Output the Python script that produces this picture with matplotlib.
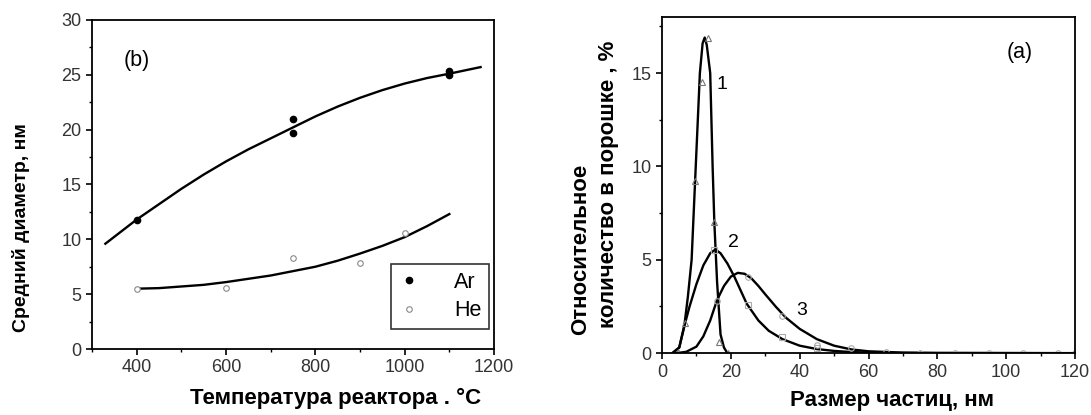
import matplotlib
matplotlib.use("Agg")
import matplotlib.pyplot as plt
from matplotlib.ticker import MultipleLocator

plt.rcParams['font.family'] = ['Liberation Sans', 'DejaVu Sans']

# ---- panel (b): mean diameter vs reactor temperature ----
ar_t = [400, 750, 750, 1100, 1100]
ar_d = [11.8, 21.0, 19.7, 25.3, 25.0]
he_t = [400, 600, 750, 900, 1000]
he_d = [5.5, 5.6, 8.3, 7.8, 10.6]

ar_fit_t = [330, 400, 450, 500, 550, 600, 650, 700, 750, 800, 850, 900, 950, 1000, 1050, 1100, 1170]
ar_fit_d = [9.6, 11.8, 13.2, 14.6, 15.9, 17.1, 18.2, 19.2, 20.2, 21.2, 22.1, 22.9, 23.6, 24.2, 24.7, 25.1, 25.7]
he_fit_t = [400, 450, 500, 550, 600, 650, 700, 750, 800, 850, 900, 950, 1000, 1050, 1100]
he_fit_d = [5.5, 5.55, 5.7, 5.85, 6.1, 6.4, 6.7, 7.1, 7.5, 8.05, 8.7, 9.4, 10.2, 11.2, 12.3]

# ---- panel (a): size distributions ----
c1_x = [3, 5, 6.5, 7.5, 8.6, 9.8, 11.0, 11.8, 12.4, 13.0, 14.0, 14.7, 15.2, 16.0, 17.0, 18.0, 19.0]
c1_y = [0, 0.3, 1.5, 3.0, 5.0, 10.0, 15.0, 16.6, 16.9, 16.5, 15.0, 10.0, 7.0, 3.8, 1.0, 0.3, 0.0]
c2_x = [3, 5, 6.7, 8, 10, 12, 14, 15.5, 17, 19, 21, 24.6, 28, 31, 35, 40, 45, 50, 55, 60, 70, 120]
c2_y = [0, 0.3, 1.6, 2.5, 3.7, 4.7, 5.35, 5.55, 5.35, 4.8, 4.1, 2.65, 1.75, 1.2, 0.75, 0.4, 0.22, 0.12, 0.06, 0.03, 0.01, 0]
c3_x = [4, 7, 10, 12, 14, 16, 18, 20, 22, 24, 26, 28, 30, 33, 36, 40, 45, 50, 55, 60, 70, 80, 120]
c3_y = [0, 0.07, 0.35, 0.9, 1.75, 2.85, 3.6, 4.1, 4.3, 4.25, 4.0, 3.6, 3.15, 2.5, 1.9, 1.3, 0.75, 0.4, 0.2, 0.1, 0.03, 0.01, 0]

m1_x = [4.7, 6.7, 9.6, 11.5, 13.5, 15.2, 16.6, 19.2]
m1_y = [0.05, 1.6, 9.2, 14.5, 16.9, 7.0, 0.6, 0]
m2_x = [15, 25, 35, 45]
m2_y = [5.5, 2.6, 0.85, 0.3]
m3_x = [16, 25, 35, 45, 55, 65, 75, 85, 95, 105, 115, 120]
m3_y = [2.8, 4.1, 2.0, 0.45, 0.25, 0.05, 0.03, 0.03, 0.02, 0.02, 0.02, 0]

fig = plt.figure(figsize=(10.91, 4.15), dpi=100)
tick_col = '#333333'

# left panel
ax1 = fig.add_axes([0.0843, 0.159, 0.3685, 0.793])
ax1.plot(ar_fit_t, ar_fit_d, color='black', lw=1.7)
ax1.plot(he_fit_t, he_fit_d, color='black', lw=1.7)
ax1.plot(ar_t, ar_d, 'o', color='black', ms=4.5, label='Ar')
ax1.plot(he_t, he_d, 'o', mfc='white', mec='#888888', ms=4, mew=0.8, label='He')
ax1.set_xlim(300, 1200)
ax1.set_ylim(0, 30)
ax1.xaxis.set_major_locator(MultipleLocator(200))
ax1.xaxis.set_minor_locator(MultipleLocator(100))
ax1.yaxis.set_major_locator(MultipleLocator(5))
ax1.yaxis.set_minor_locator(MultipleLocator(2.5))
ax1.text(400, 26.3, '(b)', fontsize=15.5, ha='center', va='center')
leg = ax1.legend(loc='lower right', bbox_to_anchor=(0.988, 0.061), fontsize=15.5, frameon=True,
                 fancybox=False, edgecolor='black', handletextpad=1.6, borderpad=0.35,
                 labelspacing=0.35, handlelength=1.0, borderaxespad=0)
leg.get_frame().set_linewidth(1.2)
fig.text(0.019, 0.451, 'Средний диаметр, нм', rotation=90, fontsize=14,
         fontweight='bold', ha='center', va='center')
fig.text(0.308, 0.041, 'Температура реактора . °C', fontsize=16,
         fontweight='bold', ha='center', va='center')

# right panel
ax2 = fig.add_axes([0.6068, 0.149, 0.3786, 0.810])
ax2.plot(c1_x, c1_y, color='black', lw=1.7)
ax2.plot(c2_x, c2_y, color='black', lw=1.7)
ax2.plot(c3_x, c3_y, color='black', lw=1.7)
ax2.plot(m1_x, m1_y, '^', mfc='none', mec='#777777', ms=4, mew=0.8)
ax2.plot(m2_x, m2_y, 's', mfc='none', mec='#aaaaaa', ms=4, mew=0.8)
ax2.plot(m3_x, m3_y, 'o', mfc='none', mec='#aaaaaa', ms=4, mew=0.8)
ax2.set_xlim(0, 120)
ax2.set_ylim(0, 18)
ax2.xaxis.set_major_locator(MultipleLocator(20))
ax2.xaxis.set_minor_locator(MultipleLocator(10))
ax2.yaxis.set_major_locator(MultipleLocator(5))
ax2.yaxis.set_minor_locator(MultipleLocator(2.5))
ax2.text(17.3, 14.4, '1', fontsize=14, ha='center', va='center')
ax2.text(20.8, 5.9, '2', fontsize=14, ha='center', va='center')
ax2.text(40.6, 2.26, '3', fontsize=14, ha='center', va='center')
ax2.text(104, 16.1, '(a)', fontsize=15.5, ha='center', va='center')
fig.text(0.532, 0.398, 'Относительное', rotation=90, fontsize=16,
         fontweight='bold', ha='center', va='center')
fig.text(0.558, 0.557, 'количество в порошке , %', rotation=90, fontsize=16,
         fontweight='bold', ha='center', va='center')
fig.text(0.818, 0.035, 'Размер частиц, нм', fontsize=16,
         fontweight='bold', ha='center', va='center')

for ax in (ax1, ax2):
    for s in ax.spines.values():
        s.set_linewidth(1.3)
    ax.tick_params(which='major', direction='out', length=4, width=1.2,
                   labelsize=13, labelcolor=tick_col, top=False, right=False)
    ax.tick_params(which='minor', direction='out', length=2.5, width=1.0,
                   top=False, right=False)

fig.savefig('out.png', dpi=100)
